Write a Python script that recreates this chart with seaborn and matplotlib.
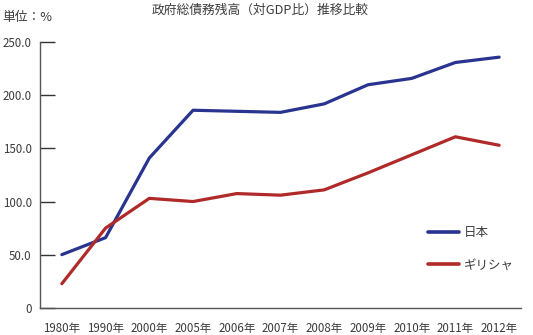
import numpy as np
import pandas as pd
import matplotlib
matplotlib.use("Agg")
import matplotlib.pyplot as plt
from matplotlib.ticker import FixedLocator
from matplotlib.lines import Line2D
import seaborn as sns

years = ["1980年", "1990年", "2000年", "2005年", "2006年", "2007年",
         "2008年", "2009年", "2010年", "2011年", "2012年"]
japan = [50.0, 66.0, 141.0, 186.0, 185.0, 184.0, 192.0, 210.0, 216.0, 231.0, 236.0]
greece = [22.6, 75.0, 103.0, 100.0, 107.5, 106.0, 111.0, 127.0, 144.0, 161.0, 153.0]
series_names = ["日本", "ギリシャ"]
yticks = [0, 50, 100, 150, 200, 250]
ytick_labels = ["0", "50.0", "100.0", "150.0", "200.0", "250.0"]
title = "政府総債務残高（対GDP比）推移比較"
unit_label = "単位：%"

sns.set_theme(style="white")
plt.rcParams["font.family"] = ["Noto Sans CJK JP", "DejaVu Sans"]

df = pd.DataFrame({
    "year": years * 2,
    "value": japan + greece,
    "country": [series_names[0]] * len(years) + [series_names[1]] * len(years),
})

text_color = "#3c3c3c"
spine_color = "#555555"
colors = {series_names[0]: "#28348f", series_names[1]: "#b02a2a"}

fig = plt.figure(figsize=(5.33, 3.35), dpi=100)
ax = fig.add_axes([40 / 533, 1 - 307.7 / 335, (521 - 40) / 533, (307.7 - 42.3) / 335])

sns.lineplot(data=df, x="year", y="value", hue="country", palette=colors,
             sort=False, linewidth=2.3, ax=ax, legend=False)

n = len(years)
ax.set_xlim(-0.5, n - 0.5)
ax.set_ylim(0, 250)
ax.set_xlabel("")
ax.set_ylabel("")

ax.set_xticks(range(n))
ax.set_xticklabels(years, fontsize=8.3, color=text_color)
ax.xaxis.set_minor_locator(FixedLocator(np.arange(-0.5, n, 1.0)))
ax.tick_params(axis="x", which="major", length=0, pad=10)
ax.tick_params(axis="x", which="minor", direction="in", length=9, width=1, color=spine_color)

ax.set_yticks(yticks)
ax.set_yticklabels(ytick_labels, fontsize=8.3, color=text_color)
ax.tick_params(axis="y", which="major", direction="in", length=11, width=1,
               color="#333333", pad=6, left=True)

for s in ["top", "right"]:
    ax.spines[s].set_visible(False)
for s in ["left", "bottom"]:
    ax.spines[s].set_color(spine_color)
    ax.spines[s].set_linewidth(1.0)

handles = [Line2D([0], [0], color=colors[k], lw=2.6) for k in series_names]
leg = ax.legend(handles, series_names, loc="upper left",
                bbox_to_anchor=(428 / 533, 1 - 226 / 335), bbox_transform=fig.transFigure,
                frameon=False, fontsize=9, handlelength=2.5, handletextpad=0.4,
                labelspacing=1.55, borderpad=0, borderaxespad=0)
for t in leg.get_texts():
    t.set_color(text_color)

fig.text(260 / 533, 1 - 10 / 335, title, ha="center", va="center",
         fontsize=9.2, color=text_color)
fig.text(2 / 533, 1 - 18 / 335, unit_label, ha="left", va="center",
         fontsize=9.2, color=text_color)

fig.savefig("out.png", dpi=100, facecolor="white")
